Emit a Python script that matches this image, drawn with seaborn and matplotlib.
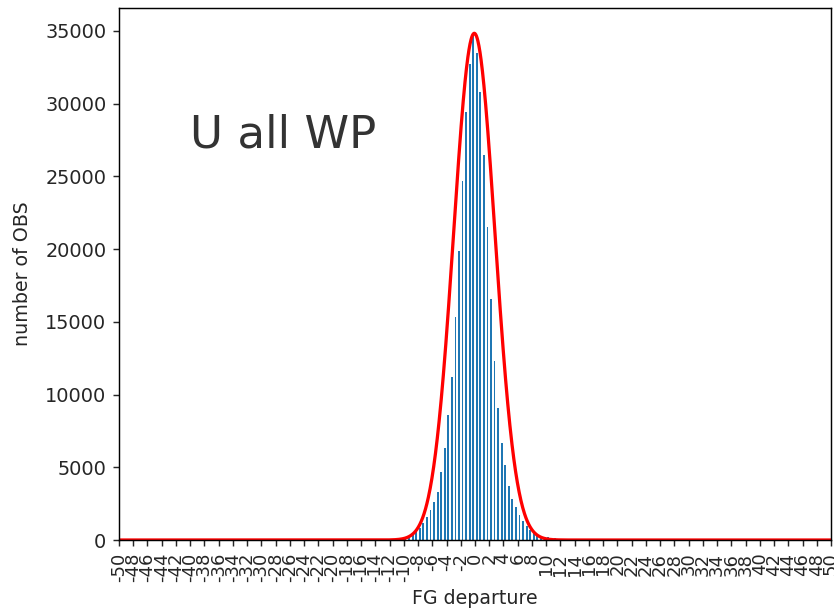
import numpy as np
import pandas as pd
import seaborn as sns
import matplotlib
matplotlib.use("Agg")
import matplotlib.pyplot as plt

# histogram of first-guess departures (bin centres, 0.5 wide bins)
bin_centres = [-10.75, -10.25, -9.75, -9.25, -8.75, -8.25, -7.75, -7.25,
               -6.75, -6.25, -5.75, -5.25, -4.75, -4.25, -3.75, -3.25,
               -2.75, -2.25, -1.75, -1.25, -0.75, -0.25, 0.25, 0.75,
               1.25, 1.75, 2.25, 2.75, 3.25, 3.75, 4.25, 4.75,
               5.25, 5.75, 6.25, 6.75, 7.25, 7.75, 8.25, 8.75,
               9.25, 9.75, 10.25, 10.75, 11.25, 11.75, 12.25]
obs_counts = [25, 50, 100, 200, 340, 550, 830, 1170,
              1580, 2060, 2600, 3300, 4700, 6300, 8600, 11200,
              15300, 19900, 24700, 29400, 32700, 34700, 33500, 30800,
              26500, 21500, 16600, 12300, 9100, 6700, 5150, 3700,
              2800, 2270, 1720, 1300, 960, 690, 500, 400,
              300, 220, 180, 150, 120, 80, 50]

# gaussian fit drawn on top
fit_amp = 34840
fit_mean = -0.1
fit_sigma = 2.9

tick_values = list(range(-50, 51, 2))
tick_labels = [str(v) for v in tick_values]
title_text = "U all WP"

sns.set_style("ticks")
plt.rcParams['font.family'] = ['DejaVu Sans']
plt.rcParams['text.color'] = '#333333'
plt.rcParams['axes.labelcolor'] = '#262626'

fig = plt.figure(figsize=(834 / 130, 615 / 130), dpi=130)
ax = fig.add_axes([119 / 834, 75 / 615, 712 / 834, 532 / 615])

df = pd.DataFrame({"dep": bin_centres, "n": obs_counts})
sns.histplot(data=df, x="dep", weights="n", binwidth=0.5, binrange=(-11, 12.5),
             shrink=0.5, color="#1f77b4", alpha=1, linewidth=0, ax=ax)

xs = np.linspace(-50, 50, 2001)
fit = pd.DataFrame({"x": xs,
                    "y": fit_amp * np.exp(-0.5 * ((xs - fit_mean) / fit_sigma) ** 2)})
sns.lineplot(data=fit, x="x", y="y", color="red", linewidth=1.8, ax=ax)

ax.set_xlim(-50, 50)
ax.set_ylim(0, 36580)
ax.set_xticks(tick_values)
ax.set_xticklabels(tick_labels, rotation=90, fontsize=10)
ax.tick_params(axis="y", labelsize=10.7)
for s in ax.spines.values():
    s.set_color("black")
ax.set_xlabel("FG departure", fontsize=10.5)
ax.set_ylabel("number of OBS", fontsize=10.5, labelpad=7)
ax.text(-40, 27000, title_text, fontsize=25, color="#333333")

fig.savefig("out.png", dpi=130)
